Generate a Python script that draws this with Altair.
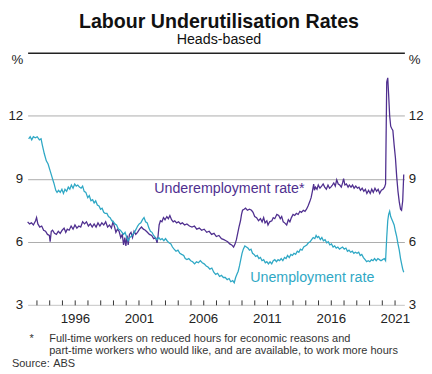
import altair as alt
import pandas as pd

# ---------------- data ----------------
under_year = [1992.30, 1992.45, 1992.60, 1992.75, 1992.92, 1993.00, 1993.10, 1993.25, 1993.40, 1993.55,
              1993.70, 1993.85, 1994.00, 1994.06, 1994.15, 1994.25, 1994.40, 1994.55, 1994.70, 1994.85,
              1995.00, 1995.15, 1995.28, 1995.40, 1995.55, 1995.70, 1995.85, 1996.00, 1996.15, 1996.30,
              1996.45, 1996.60, 1996.75, 1996.90, 1997.05, 1997.20, 1997.35, 1997.50, 1997.65, 1997.80,
              1997.95, 1998.10, 1998.25, 1998.40, 1998.55, 1998.70, 1998.85, 1998.97, 1999.10, 1999.20,
              1999.32, 1999.45, 1999.58, 1999.70, 1999.80, 1999.90, 1999.98, 2000.08, 2000.16, 2000.26,
              2000.38, 2000.50, 2000.62, 2000.75, 2000.89, 2001.05, 2001.20, 2001.35, 2001.50, 2001.66,
              2001.82, 2002.00, 2002.15, 2002.30, 2002.42, 2002.50, 2002.58, 2002.68, 2002.80, 2002.92,
              2003.04, 2003.18, 2003.30, 2003.42, 2003.55, 2003.68, 2003.80, 2003.95, 2004.10, 2004.25,
              2004.40, 2004.57, 2004.75, 2004.95, 2005.15, 2005.34, 2005.52, 2005.72, 2005.90, 2006.10,
              2006.30, 2006.49, 2006.68, 2006.87, 2007.05, 2007.25, 2007.45, 2007.64, 2007.80, 2007.94,
              2008.10, 2008.25, 2008.40, 2008.52, 2008.62, 2008.72, 2008.82, 2008.94, 2009.02, 2009.10,
              2009.22, 2009.33, 2009.48, 2009.64, 2009.80, 2009.92, 2010.05, 2010.20, 2010.35, 2010.50,
              2010.63, 2010.75, 2010.86, 2011.00, 2011.09, 2011.22, 2011.39, 2011.50, 2011.62, 2011.78,
              2011.93, 2012.05, 2012.16, 2012.28, 2012.39, 2012.55, 2012.68, 2012.80, 2012.92, 2013.05,
              2013.18, 2013.31, 2013.45, 2013.58, 2013.70, 2013.85, 2013.98, 2014.10, 2014.22, 2014.35,
              2014.46, 2014.56, 2014.66, 2014.72, 2014.80, 2014.92, 2015.02, 2015.15, 2015.28, 2015.40,
              2015.52, 2015.65, 2015.78, 2015.90, 2016.00, 2016.12, 2016.23, 2016.35, 2016.46, 2016.58,
              2016.70, 2016.82, 2016.92, 2017.00, 2017.10, 2017.22, 2017.35, 2017.45, 2017.58, 2017.70,
              2017.82, 2017.95, 2018.08, 2018.20, 2018.32, 2018.45, 2018.58, 2018.70, 2018.82, 2018.95,
              2019.08, 2019.20, 2019.32, 2019.45, 2019.58, 2019.70, 2019.82, 2019.95, 2020.08, 2020.20,
              2020.28, 2020.37, 2020.45, 2020.52, 2020.60, 2020.68, 2020.75, 2020.85, 2020.95, 2021.05,
              2021.15, 2021.25, 2021.35, 2021.45, 2021.53, 2021.62, 2021.70]
under_rate = [6.95, 6.85, 6.9, 6.8, 7.0, 7.15, 6.85, 6.7, 6.75, 6.55,
              6.5, 6.35, 6.3, 6.0, 6.5, 6.55, 6.4, 6.35, 6.5, 6.4,
              6.55, 6.65, 6.45, 6.6, 6.55, 6.75, 6.6, 6.8, 6.65, 6.75,
              6.7, 6.95, 6.85, 6.95, 6.75, 6.85, 6.7, 6.85, 6.7, 6.9,
              6.75, 6.9, 6.8, 6.95, 6.7, 6.8, 6.65, 6.95, 6.7, 6.45,
              6.6, 6.5, 6.2, 6.35, 5.85, 6.2, 5.8, 6.3, 5.85, 6.35,
              6.45, 6.2, 6.5, 6.35, 6.45, 6.6, 6.7, 6.6, 6.55, 6.45,
              6.35, 6.3, 6.15, 6.2, 5.95, 6.3, 6.8, 7.0, 6.95, 7.15,
              7.05, 7.2, 7.1, 7.25, 7.05, 6.95, 7.0, 6.9, 6.95, 6.85,
              6.9, 6.8, 6.85, 6.75, 6.7, 6.75, 6.6, 6.65, 6.55, 6.6,
              6.45, 6.5, 6.35, 6.4, 6.25, 6.3, 6.15, 6.1, 6.05, 6.0,
              5.9, 5.85, 5.75, 5.9, 6.1, 6.4, 6.7, 7.0, 7.3, 7.5,
              7.55, 7.6, 7.5, 7.55, 7.5, 7.4, 7.2, 7.15, 7.0, 7.1,
              6.95, 7.15, 6.9, 7.0, 6.8, 6.95, 7.0, 7.15, 7.1, 7.3,
              7.25, 7.1, 7.2, 6.95, 6.9, 6.8, 7.05, 6.95, 7.15, 7.3,
              7.25, 7.35, 7.3, 7.45, 7.4, 7.5, 7.45, 7.55, 7.7, 7.9,
              8.1, 8.4, 8.75, 8.45, 8.6, 8.5, 8.7, 8.55, 8.65, 8.75,
              8.6, 8.5, 8.7, 8.55, 8.6, 8.7, 8.8, 8.65, 8.95, 8.75,
              8.7, 8.6, 8.8, 9.0, 8.7, 8.75, 8.6, 8.7, 8.6, 8.7,
              8.55, 8.65, 8.55, 8.6, 8.45, 8.55, 8.4, 8.5, 8.3, 8.45,
              8.3, 8.5, 8.35, 8.55, 8.4, 8.5, 8.3, 8.45, 8.5, 8.6,
              8.75, 13.6, 13.8, 13.0, 12.0, 11.5, 11.4, 11.3, 10.6, 10.0,
              9.1, 8.4, 7.9, 7.55, 7.5, 7.95, 9.2]

unemp_year = [1992.38, 1992.50, 1992.62, 1992.75, 1992.90, 1993.05, 1993.22, 1993.35, 1993.45, 1993.60,
              1993.76, 1993.90, 1994.05, 1994.22, 1994.35, 1994.50, 1994.60, 1994.72, 1994.85, 1994.98,
              1995.10, 1995.22, 1995.35, 1995.48, 1995.60, 1995.72, 1995.85, 1995.98, 1996.10, 1996.22,
              1996.35, 1996.48, 1996.60, 1996.72, 1996.85, 1997.00, 1997.12, 1997.25, 1997.38, 1997.50,
              1997.62, 1997.75, 1997.88, 1998.00, 1998.12, 1998.25, 1998.36, 1998.50, 1998.62, 1998.75,
              1998.88, 1999.00, 1999.12, 1999.25, 1999.40, 1999.55, 1999.68, 1999.80, 1999.92, 2000.05,
              2000.15, 2000.28, 2000.40, 2000.52, 2000.65, 2000.78, 2000.90, 2001.02, 2001.15, 2001.28,
              2001.40, 2001.52, 2001.65, 2001.78, 2001.90, 2002.02, 2002.15, 2002.28, 2002.42, 2002.55,
              2002.68, 2002.81, 2002.95, 2003.08, 2003.20, 2003.35, 2003.50, 2003.62, 2003.75, 2003.90,
              2004.05, 2004.20, 2004.34, 2004.50, 2004.62, 2004.75, 2004.90, 2005.05, 2005.20, 2005.35,
              2005.50, 2005.65, 2005.80, 2005.95, 2006.10, 2006.26, 2006.40, 2006.55, 2006.70, 2006.85,
              2007.00, 2007.15, 2007.30, 2007.45, 2007.60, 2007.75, 2007.90, 2008.05, 2008.18, 2008.33,
              2008.45, 2008.56, 2008.66, 2008.76, 2008.86, 2008.96, 2009.06, 2009.16, 2009.28, 2009.40,
              2009.52, 2009.64, 2009.76, 2009.88, 2010.00, 2010.12, 2010.25, 2010.38, 2010.50, 2010.62,
              2010.75, 2010.88, 2011.00, 2011.12, 2011.25, 2011.38, 2011.50, 2011.62, 2011.75, 2011.88,
              2012.00, 2012.12, 2012.25, 2012.38, 2012.50, 2012.62, 2012.75, 2012.88, 2013.00, 2013.12,
              2013.25, 2013.38, 2013.50, 2013.62, 2013.75, 2013.88, 2014.00, 2014.12, 2014.25, 2014.38,
              2014.50, 2014.62, 2014.75, 2014.85, 2014.95, 2015.05, 2015.18, 2015.30, 2015.42, 2015.55,
              2015.68, 2015.80, 2015.92, 2016.05, 2016.18, 2016.30, 2016.42, 2016.55, 2016.68, 2016.80,
              2016.92, 2017.05, 2017.18, 2017.30, 2017.42, 2017.55, 2017.68, 2017.80, 2017.92, 2018.05,
              2018.18, 2018.30, 2018.42, 2018.55, 2018.68, 2018.80, 2018.92, 2019.05, 2019.18, 2019.30,
              2019.42, 2019.55, 2019.68, 2019.80, 2019.92, 2020.05, 2020.18, 2020.28, 2020.37, 2020.45,
              2020.52, 2020.60, 2020.68, 2020.75, 2020.85, 2020.95, 2021.05, 2021.15, 2021.25, 2021.35,
              2021.45, 2021.55, 2021.62, 2021.70]
unemp_rate = [10.9, 11.0, 10.85, 11.0, 10.95, 11.0, 10.85, 10.9, 10.6, 10.2,
              9.85, 9.7, 9.4, 9.05, 8.8, 8.45, 8.35, 8.45, 8.35, 8.5,
              8.3, 8.5, 8.4, 8.6, 8.5, 8.7, 8.55, 8.75, 8.65, 8.7,
              8.6, 8.55, 8.65, 8.4, 8.35, 8.1, 8.2, 7.95, 8.0, 7.85,
              7.95, 7.75, 7.7, 7.55, 7.6, 7.4, 7.35, 7.35, 7.2, 7.15,
              7.0, 6.95, 6.85, 6.8, 6.6, 6.55, 6.45, 6.35, 6.45, 6.2,
              6.05, 6.2, 6.25, 6.35, 6.45, 6.6, 6.75, 6.85, 6.9, 7.05,
              7.15, 6.95, 6.9, 6.65, 6.5, 6.45, 6.3, 6.2, 6.1, 6.2,
              6.1, 6.15, 6.05, 6.15, 6.05, 5.95, 5.9, 5.75, 5.65, 5.55,
              5.6, 5.45, 5.4, 5.35, 5.2, 5.15, 5.2, 5.1, 5.05, 4.95,
              5.05, 5.0, 5.1, 5.0, 4.95, 4.85, 4.8, 4.7, 4.75, 4.55,
              4.45, 4.5, 4.35, 4.4, 4.3, 4.3, 4.2, 4.25, 4.1, 4.15,
              4.05, 4.3, 4.45, 4.6, 4.85, 5.15, 5.45, 5.65, 5.8, 5.75,
              5.7, 5.6, 5.65, 5.45, 5.4, 5.3, 5.35, 5.2, 5.25, 5.1,
              5.15, 5.0, 5.05, 4.95, 5.05, 4.95, 5.1, 5.15, 5.05, 5.15,
              5.1, 5.2, 5.1, 5.25, 5.2, 5.35, 5.25, 5.4, 5.35, 5.45,
              5.4, 5.55, 5.5, 5.65, 5.6, 5.75, 5.8, 5.85, 5.95, 6.0,
              6.1, 6.2, 6.15, 6.3, 6.2, 6.25, 6.1, 6.2, 6.05, 6.1,
              5.95, 6.0, 5.85, 5.9, 5.75, 5.8, 5.7, 5.75, 5.65, 5.7,
              5.75, 5.65, 5.7, 5.55, 5.6, 5.5, 5.55, 5.45, 5.5, 5.45,
              5.5, 5.35, 5.4, 5.25, 5.15, 5.05, 5.1, 5.05, 5.15, 5.1,
              5.2, 5.1, 5.2, 5.15, 5.1, 5.15, 5.2, 5.1, 6.2, 7.0,
              7.3, 7.45, 7.2, 7.1, 6.95, 6.8, 6.5, 6.25, 5.9, 5.6,
              5.2, 4.9, 4.7, 4.55]

tick_years = list(range(1993, 2022))
label_years = [1996, 2001, 2006, 2011, 2016, 2021]
y_values = [3, 6, 9, 12, 15]

series_names = ["Underemployment rate*", "Unemployment rate"]
series_label_year = [2002.2, 2009.7]
series_label_rate = [8.3, 4.1]

title_text = "Labour Underutilisation Rates"
subtitle_text = "Heads-based"
footnote_star = "*"
footnote_lines = ["Full-time workers on reduced hours for economic reasons and",
                  "part-time workers who would like, and are available, to work more hours"]
source_label = "Source:"
source_text = "ABS"

# ---------------- style ----------------
FONT = "Liberation Sans"
PURPLE = "#4f2f8f"
CYAN = "#2fa8c5"
TEXT = "#222222"
W, H = 384, 257

x_scale = alt.Scale(domain=[1992.3, 2021.75], nice=False, zero=False)
y_scale = alt.Scale(domain=[3, 15], nice=False, zero=False)

pct_expr = "datum.value == 15 ? '%' : datum.label"
pct_baseline = {"condition": {"test": "datum.value == 15", "value": "top"}, "value": "middle"}

left_axis = alt.Axis(
    orient="left", values=y_values, labelExpr=pct_expr, title=None,
    domain=False, ticks=False, grid=True,
    gridColor={"condition": [{"test": "datum.value == 15", "value": "#222222"},
                             {"test": "datum.value == 3", "value": "#c4c4c4"}],
               "value": "#ababab"},
    gridWidth={"condition": {"test": "datum.value == 15", "value": 1.5}, "value": 1},
    labelBaseline=pct_baseline,
    labelFont=FONT, labelFontSize=13.5, labelColor=TEXT, labelPadding=5,
)
right_axis = alt.Axis(
    orient="right", values=y_values, labelExpr=pct_expr, title=None,
    domain=False, ticks=False, grid=False, labelBaseline=pct_baseline,
    labelFont=FONT, labelFontSize=13.5, labelColor=TEXT, labelPadding=4,
)
bottom_axis = alt.Axis(
    orient="bottom", values=label_years, format="d", title=None,
    domain=False, ticks=False, grid=False, labelFlush=False,
    labelFont=FONT, labelFontSize=13.5, labelColor=TEXT, labelPadding=7,
)
tick_axis = alt.Axis(
    orient="top", offset=-H, values=tick_years, title=None, labels=False,
    domain=False, grid=False, ticks=True, tickSize=5, tickWidth=1, tickColor="#333333",
)

under_df = pd.DataFrame({"year": under_year, "rate": under_rate})
unemp_df = pd.DataFrame({"year": unemp_year, "rate": unemp_rate})

under_line = alt.Chart(under_df).mark_line(color=PURPLE, strokeWidth=1.3).encode(
    x=alt.X("year:Q", scale=x_scale, axis=bottom_axis),
    y=alt.Y("rate:Q", scale=y_scale, axis=left_axis),
)
unemp_line = alt.Chart(unemp_df).mark_line(color=CYAN, strokeWidth=1.3).encode(
    x=alt.X("year:Q", scale=x_scale, axis=tick_axis),
    y=alt.Y("rate:Q", scale=y_scale, axis=right_axis),
)

lab_df = pd.DataFrame({"name": series_names, "year": series_label_year, "rate": series_label_rate})
series_labels = alt.Chart(lab_df).mark_text(
    align="left", baseline="alphabetic", font=FONT, fontSize=14.5
).encode(
    x=alt.X("year:Q", scale=x_scale, axis=None),
    y=alt.Y("rate:Q", scale=y_scale, axis=None),
    text="name:N",
    color=alt.Color("name:N", scale=alt.Scale(domain=series_names, range=[PURPLE, CYAN]), legend=None),
)


def note(txt, px, py, size=11.2, color="#333333"):
    return alt.Chart(pd.DataFrame({"t": [txt]})).mark_text(
        align="left", baseline="alphabetic", font=FONT, fontSize=size, color=color
    ).encode(x=alt.value(px), y=alt.value(py), text="t:N")


notes = [
    note(footnote_star, 2, 295),
    note(footnote_lines[0], 22, 295),
    note(footnote_lines[1], 22, 307),
    note(source_label, -16, 320),
    note(source_text, 26, 320),
]

chart = alt.layer(under_line, unemp_line, series_labels, *notes).resolve_axis(
    x="independent", y="independent"
).properties(
    width=W, height=H,
    title=alt.TitleParams(
        text=title_text, subtitle=subtitle_text, anchor="middle", frame="group",
        font=FONT, fontSize=20, fontWeight="bold", color="#111111",
        subtitleFont=FONT, subtitleFontSize=14.5, subtitleColor="#111111",
        subtitlePadding=2, offset=6, dx=3,
    ),
    autosize=alt.AutoSizeParams(type="none"),
    padding={"left": 20, "top": 42, "right": 20, "bottom": 67},
).configure_view(stroke=None)

chart.save("out.html", embed_options={"renderer": "svg", "actions": False})
